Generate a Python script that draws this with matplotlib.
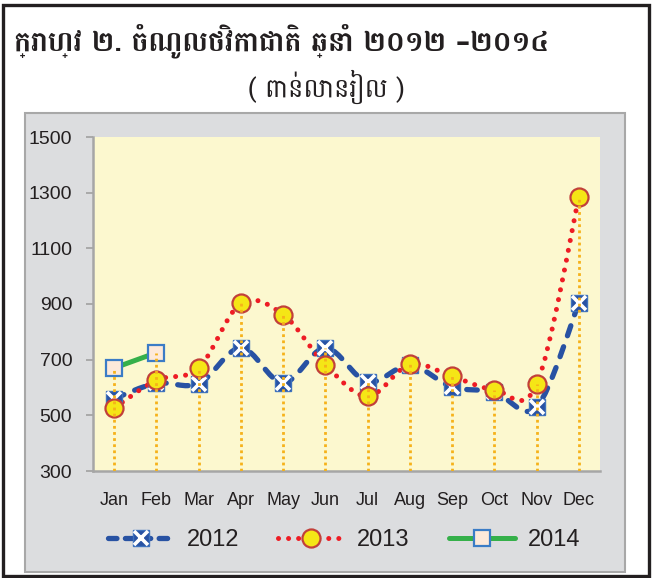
import numpy as np
import matplotlib
matplotlib.use("Agg")
import matplotlib.pyplot as plt
from matplotlib.path import Path
from matplotlib.patches import PathPatch, Rectangle
from matplotlib.lines import Line2D
from matplotlib.legend_handler import HandlerTuple

# === DATOS ===
months = ["Jan", "Feb", "Mar", "Apr", "May", "Jun",
          "Jul", "Aug", "Sep", "Oct", "Nov", "Dec"]
rev_2012 = [560, 615, 614, 742, 617, 742, 620, 680, 602, 584, 530, 904]
rev_2013 = [526, 626, 670, 902, 862, 682, 568, 683, 640, 592, 611, 1284]
rev_2014 = [670, 725]
yticks = [300, 500, 700, 900, 1100, 1300, 1500]

title = "ក្រាហ្វ ២. ចំណូលថវិកាជាតិ ឆ្នាំ ២០១២ –២០១៤"
subtitle = "( ពាន់លានរៀល )"

KH = ["Battambang", "DejaVu Sans"]
SANS = ["Liberation Sans", "DejaVu Sans"]

BLUE = "#2852a3"
RED = "#ee1c24"
GREEN = "#35b04a"
ORANGE = "#f6b21a"


def smooth_path(xs, ys):
    # curva suavizada tipo Excel (Catmull-Rom -> Bezier)
    pts = np.column_stack([xs, ys]).astype(float)
    n = len(pts)
    verts = [pts[0]]
    codes = [Path.MOVETO]
    for i in range(n - 1):
        p0 = pts[i - 1] if i > 0 else pts[i]
        p1 = pts[i]
        p2 = pts[i + 1]
        p3 = pts[i + 2] if i + 2 < n else pts[i + 1]
        verts += [p1 + (p2 - p0) / 6.0, p2 - (p3 - p1) / 6.0, p2]
        codes += [Path.CURVE4] * 3
    return Path(verts, codes)


fig = plt.figure(figsize=(6.52, 5.78), dpi=100)
W, H = 652.0, 578.0

# marco negro y panel gris
fig.patches.append(Rectangle((2.5 / W, 2.5 / H), 646.5 / W, 571 / H, transform=fig.transFigure,
                             fill=False, edgecolor="#231f20", linewidth=2.4, zorder=-10))
fig.patches.append(Rectangle((25 / W, 1 - 572 / H), 600 / W, 459 / H, transform=fig.transFigure,
                             facecolor="#dcdddf", edgecolor="#a8a8a8", linewidth=1.5, zorder=-10))

ax = fig.add_axes([93 / W, 1 - 471 / H, 507 / W, 334 / H], zorder=1)
ax.set_facecolor("#fcf8cf")

x = np.arange(len(months))
x14 = np.arange(len(rev_2014))

# lineas de caida (drop lines)
tops = [max(v) for v in zip(rev_2012, rev_2013)]
for i, v in enumerate(rev_2014):
    tops[i] = max(tops[i], v)
for xi, t in zip(x, tops):
    ax.plot([xi, xi], [300, t], color=ORANGE, lw=2, linestyle=(0, (1, 1.2)), zorder=6)

# 2012
ax.add_patch(PathPatch(smooth_path(x, rev_2012), fill=False, edgecolor=BLUE, lw=3.8,
                       linestyle=(0, (2.0, 2.2)), capstyle="round", zorder=3))
ax.plot(x, rev_2012, linestyle="none", marker="s", ms=12, mfc=BLUE, mec="#3e72bd", mew=1, zorder=4)
ax.plot(x, rev_2012, linestyle="none", marker="x", ms=9.5, mec="white", mew=2.6, zorder=4)

# 2013
ax.add_patch(PathPatch(smooth_path(x, rev_2013), fill=False, edgecolor=RED, lw=3.6,
                       linestyle=(0, (0.01, 2.0)), capstyle="round", zorder=3))
ax.plot(x, rev_2013, linestyle="none", marker="o", ms=13, mfc="#f5e616", mec="#c2403a", mew=1.6, zorder=5)

# 2014
ax.plot(x14, rev_2014, color=GREEN, lw=3.6, solid_capstyle="round", zorder=3)
ax.plot(x14, rev_2014, linestyle="none", marker="s", ms=12, mfc="#fde9da", mec="#3b7cc6", mew=1.6, zorder=5)

ax.set_xlim(-0.5, len(months) - 0.5)
ax.set_ylim(300, 1500)
ax.set_yticks(yticks)
ax.set_xticks(x)
ax.set_xticklabels(months, family=SANS, fontsize=13, color="#231f20")
for lb in ax.get_yticklabels():
    lb.set_family(SANS)
    lb.set_fontsize(14)
    lb.set_color("#231f20")
ax.tick_params(axis="x", length=0, pad=15)
ax.tick_params(axis="y", length=5, width=1.2, color="#a0a0a0", pad=10)
for s in ["top", "right"]:
    ax.spines[s].set_visible(False)
for s in ["left", "bottom"]:
    ax.spines[s].set_color("#a6a6a6")
    ax.spines[s].set_linewidth(1.8)

# leyenda
h12 = (Line2D([], [], color=BLUE, lw=3.8, linestyle=(0, (1.6, 1.6)), dash_capstyle="round",
              marker="s", ms=12, mfc=BLUE, mec="#3e72bd"),
       Line2D([], [], linestyle="none", marker="x", ms=9.5, mec="white", mew=2.6))
h13 = Line2D([], [], color=RED, lw=3.6, linestyle=(0, (0.01, 2.0)), dash_capstyle="round",
             marker="o", ms=13, mfc="#f5e616", mec="#c2403a", mew=1.6)
h14 = Line2D([], [], color=GREEN, lw=3.6, solid_capstyle="round",
             marker="s", ms=12, mfc="#fde9da", mec="#3b7cc6", mew=1.6)
fig.legend([h12, h13, h14], ["2012", "2013", "2014"], ncol=3, frameon=False,
           loc="center", bbox_to_anchor=(344 / W, 1 - 540 / H),
           prop={"family": SANS, "size": 17}, handlelength=2.8, handletextpad=0.55,
           columnspacing=1.65, handler_map={tuple: HandlerTuple(ndivide=1, pad=0)},
           labelcolor="#231f20")

# titulos
fig.text(14 / W, 1 - 41 / H, title, family=KH, fontweight="bold", fontsize=20.5,
         ha="left", va="center", color="#231f20")
fig.text(326 / W, 1 - 87 / H, subtitle, family=KH, fontsize=18.5,
         ha="center", va="center", color="#231f20")

fig.savefig("out.png", dpi=100)
